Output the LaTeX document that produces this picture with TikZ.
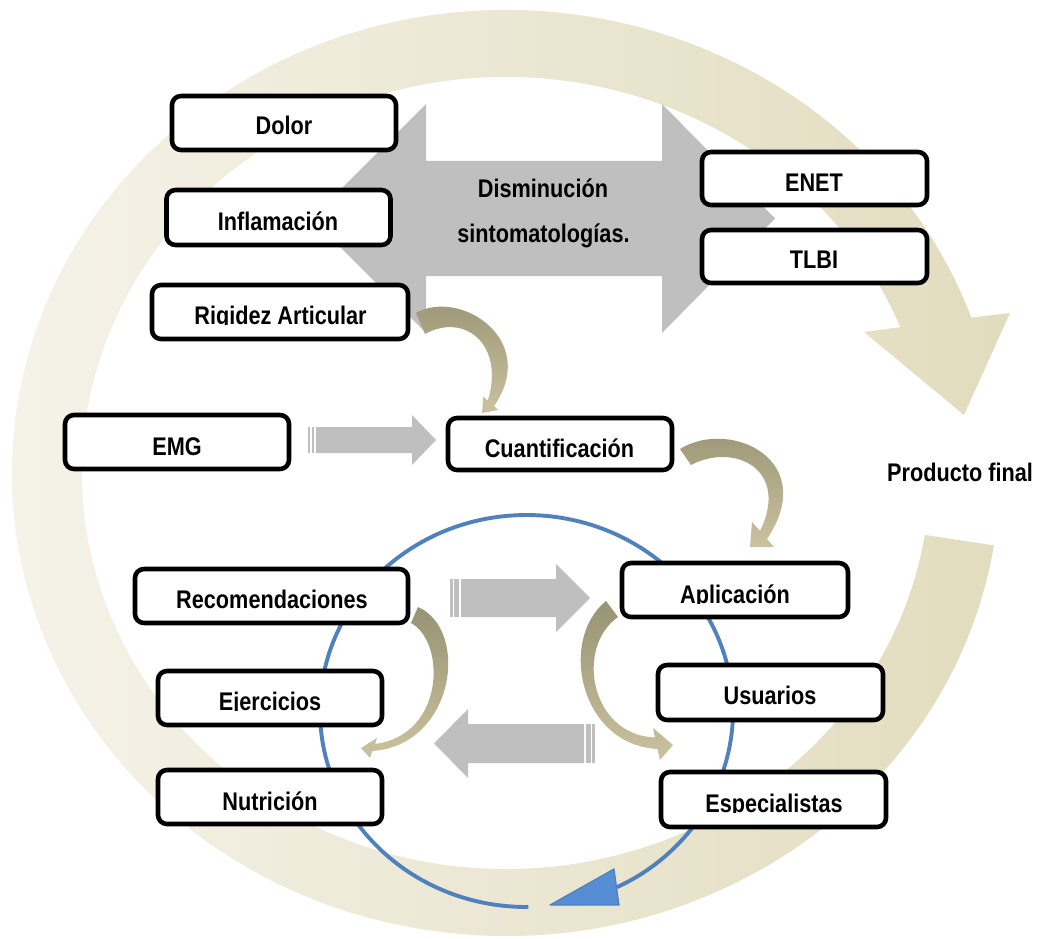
\documentclass[tikz,border=0pt]{standalone}
\usepackage{fontspec}
\setmainfont{Liberation Sans}[FakeStretch=0.85]
\definecolor{ringL}{RGB}{246,243,234}
\definecolor{ringR}{RGB}{226,220,190}
\definecolor{arrowgray}{RGB}{191,191,191}
\definecolor{oliveD}{RGB}{152,147,116}
\definecolor{oliveL}{RGB}{203,194,158}
\definecolor{blueline}{RGB}{79,129,189}
\definecolor{bluefill}{RGB}{85,142,213}
\tikzset{
  box/.style={draw=black, line width=4.6pt, rounded corners=9pt, fill=white,
    minimum width=224pt, minimum height=54pt, inner sep=0pt},
  lbl/.style={anchor=base, inner sep=0pt, font=\bfseries\fontsize{25.5}{30}\selectfont},
  garrow/.style={fill=arrowgray},
  carrow/.style={top color=oliveD, bottom color=oliveL},
}
\begin{document}
\begin{tikzpicture}[x=1pt,y=-1pt]
\useasboundingbox (0,0) rectangle (1037,939);

% big circular beige arrow
\shade[left color=ringL, right color=ringR]
  (993.9,545.4) arc[start angle=9, end angle=340.4, x radius=494, y radius=463]
  -- (1010,313) -- (964,415) -- (864,332) -- (900.2,327.2)
  arc[start angle=338.4, end angle=9, x radius=424, y radius=396] -- cycle;

% blue cycle
\draw[blueline, line width=3.9pt] (528.3,907) arc[start angle=89.5, end angle=424, x radius=206.5, y radius=196];
\filldraw[fill=bluefill, draw=blueline, line width=1.2pt, line join=round] (550,905) -- (614,869) -- (619,905) -- cycle;

% big gray double arrow
\fill[garrow] (311.5,218.5) -- (426,104) -- (426,161) -- (662,161) -- (662,104) -- (775,218.5)
  -- (662,333) -- (662,276) -- (426,276) -- (426,333) -- cycle;

% EMG -> Cuantificacion
\fill[garrow] (308.3,427) rectangle (310,453);
\fill[garrow] (311.7,427) rectangle (314.3,453);
\fill[garrow] (316,427) -- (412,427) -- (412,415) -- (436,440) -- (412,465) -- (412,453) -- (316,453) -- cycle;

% Recomendaciones -> Aplicacion
\fill[garrow] (450,579) rectangle (452.7,617);
\fill[garrow] (454.3,579) rectangle (459,617);
\fill[garrow] (461,579) -- (556,579) -- (556,564) -- (590,598) -- (556,632) -- (556,617) -- (461,617) -- cycle;

% left arrow
\fill[garrow] (592.3,724) rectangle (595,763);
\fill[garrow] (586,724) rectangle (590.7,763);
\fill[garrow] (584,724) -- (468,724) -- (468,709) -- (434,743.5) -- (468,778) -- (468,763) -- (584,763) -- cycle;

% curved arrows
\shade[carrow] (416,313) .. controls (460,288) and (540,340) .. (494,406) -- (498.3,410) -- (482,413)
  -- (483.3,396.7) -- (487.8,400.7) .. controls (505,345) and (465,312) .. (425,334) -- cycle;
\shade[carrow] (680,449) .. controls (730,418) and (820,460) .. (767,539) -- (774,547) -- (750,547)
  -- (752,522) -- (760,531) .. controls (790,470) and (735,442) .. (691,465) -- cycle;
\shade[carrow] (606,601) .. controls (558,640) and (580,745) .. (657.5,749) -- (660,760) -- (673,745)
  -- (653,728) -- (655,737.5) .. controls (590,735) and (575,647) .. (618,617) -- cycle;
\shade[carrow] (418,607) .. controls (470,630) and (455,745) .. (372.5,751) -- (370,758) -- (361,748)
  -- (377,738) -- (375,744) .. controls (445,735) and (446,642) .. (411,623) -- cycle;

% boxes
\node[box] (dolor) at (284,123) {};
\node[box, minimum height=55pt] (infl) at (278.5,217.5) {};
\node[box, minimum width=256pt] (rigidez) at (280,312) {};
\node[box] (emg) at (177,442) {};
\node[box, minimum height=52pt] (cuant) at (560,444) {};
\node[box, minimum height=53pt, minimum width=225pt] (enet) at (814.5,178.5) {};
\node[box, minimum height=53pt, minimum width=225pt] (tlbi) at (814.5,256.5) {};
\node[box, minimum width=273pt] (recom) at (271.5,596) {};
\node[box] (ejer) at (270,698) {};
\node[box] (nutri) at (270,797) {};
\node[box, minimum width=226pt] (aplic) at (735,590) {};
\node[box, minimum width=225pt, minimum height=55pt] (usu) at (770.5,692.5) {};
\node[box, minimum width=225pt, minimum height=55pt] (espec) at (773.5,799.5) {};

% labels
\node[lbl] (dolor-t) at (284,135) {Dolor};
\node[lbl] (infl-t) at (278,230) {Inflamación};
\begin{scope}
  \clip (150,283) rectangle (410,324.8);
  \node[lbl] (rigidez-t) at (280.5,324) {Rigidez Articular};
\end{scope}
\node[lbl] (emg-t) at (177,455) {EMG};
\node[lbl] (cuant-t) at (559.5,457) {Cuantificación};
\node[lbl] (enet-t) at (814,192) {ENET};
\node[lbl] (tlbi-t) at (814,268) {TLBI};
\node[lbl] (recom-t) at (272,608) {Recomendaciones};
\begin{scope}
  \clip (156,669) rectangle (384,710.8);
  \node[lbl] (ejer-t) at (270,710) {Ejercicios};
\end{scope}
\node[lbl] (nutri-t) at (270,810) {Nutrición};
\begin{scope}
  \clip (620,561) rectangle (850,603.8);
  \node[lbl] (aplic-t) at (735,603) {Aplicación};
\end{scope}
\node[lbl] (usu-t) at (770,704) {Usuarios};
\begin{scope}
  \clip (659,770) rectangle (888,812.8);
  \node[lbl] (espec-t) at (774,812) {Especialistas};
\end{scope}
\node[lbl] (dism-t) at (543,198) {Disminución};
\node[lbl] (sinto-t) at (543.5,243) {sintomatologías.};
\node[lbl] (prod-t) at (960,481) {Producto final};
\end{tikzpicture}
\end{document}
